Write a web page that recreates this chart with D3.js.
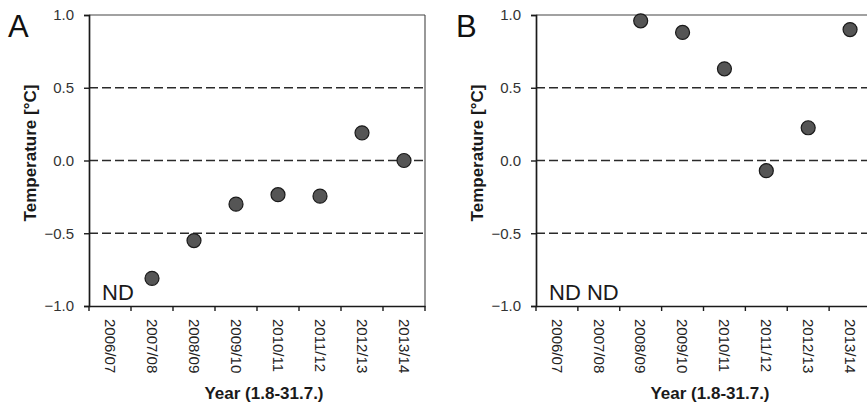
<!DOCTYPE html>
<html>
<head>
<meta charset="utf-8">
<script src="https://cdn.jsdelivr.net/npm/d3@7"></script>
<style>
  body { margin: 0; background: #fff; }
  svg { font-family: "Liberation Sans", Arial, sans-serif; }
</style>
</head>
<body>
<script>
// seasons on the x axis
var years = ["2006/07", "2007/08", "2008/09", "2009/10", "2010/11", "2011/12", "2012/13", "2013/14"];
// null = ND (no data)
var valuesA = [null, -0.81, -0.55, -0.30, -0.235, -0.245, 0.19, 0.0];
var valuesB = [null, null, 0.96, 0.88, 0.63, -0.07, 0.225, 0.90];
var yTicks = [-1.0, -0.5, 0.0, 0.5, 1.0];
var gridLines = [-0.5, 0.0, 0.5];

var svg = d3.select("body").append("svg")
    .attr("width", 867)
    .attr("height", 405);

function drawPanel(spec) {
    var x = d3.scaleBand().domain(years).range([spec.left, spec.right]);
    var y = d3.scaleLinear().domain([-1, 1]).range([306, 15]);
    var g = svg.append("g");

    // frame top / right (thin)
    g.append("line")
        .attr("x1", spec.left).attr("x2", spec.right)
        .attr("y1", y(1)).attr("y2", y(1))
        .attr("stroke", "#444").attr("stroke-width", 1.1);
    g.append("line")
        .attr("x1", spec.right).attr("x2", spec.right)
        .attr("y1", y(1)).attr("y2", y(-1))
        .attr("stroke", "#444").attr("stroke-width", 1.1);

    // dashed reference lines
    g.selectAll(".grid").data(gridLines).enter().append("line")
        .attr("x1", spec.left).attr("x2", spec.right)
        .attr("y1", d => y(d)).attr("y2", d => y(d))
        .attr("stroke", "#2a2a2a").attr("stroke-width", 1.4)
        .attr("stroke-dasharray", "9,4");

    // y axis
    var ya = g.append("g")
        .attr("transform", "translate(" + spec.left + ",0)")
        .call(d3.axisLeft(y).tickValues(yTicks).tickFormat(d3.format(".1f")).tickSize(5).tickPadding(10));
    ya.select(".domain").attr("stroke", "#1a1a1a").attr("stroke-width", 1.7);
    ya.selectAll(".tick line").attr("stroke", "#1a1a1a").attr("stroke-width", 1.4);
    ya.selectAll(".tick text").attr("fill", "#333").style("font-size", "15px");

    // x axis: labels centred in bands, ticks at band edges
    var xa = g.append("g")
        .attr("transform", "translate(0," + y(-1) + ")")
        .call(d3.axisBottom(x).tickSize(0).tickPadding(0));
    xa.select(".domain").attr("stroke", "#1a1a1a").attr("stroke-width", 1.7);
    xa.selectAll(".tick text")
        .attr("fill", "#222")
        .style("font-size", "15px")
        .attr("text-anchor", "start")
        .attr("dy", "0.35em")
        .attr("transform", "translate(0,13) rotate(90)");
    var edges = years.map(d => x(d)).concat([x(years[years.length - 1]) + x.bandwidth()]);
    xa.selectAll(".edge").data(edges).enter().append("line")
        .attr("x1", d => d).attr("x2", d => d)
        .attr("y1", 0).attr("y2", 5)
        .attr("stroke", "#1a1a1a").attr("stroke-width", 1.4);

    // points
    var pts = years.map((c, i) => ({ c: c, v: spec.values[i] })).filter(d => d.v !== null);
    g.selectAll(".pt").data(pts).enter().append("circle")
        .attr("cx", d => x(d.c) + x.bandwidth() / 2)
        .attr("cy", d => y(d.v))
        .attr("r", 7)
        .attr("fill", "#555")
        .attr("stroke", "#1a1a1a")
        .attr("stroke-width", 1.2);

    // ND labels
    g.append("text")
        .attr("x", spec.left + 13)
        .attr("y", 300)
        .style("font-size", "22px")
        .attr("fill", "#1a1a1a")
        .text(spec.nd);

    // axis titles
    g.append("text")
        .attr("transform", "translate(" + (spec.left - 53) + ",153) rotate(-90)")
        .attr("text-anchor", "middle")
        .style("font-size", "17px")
        .style("font-weight", "bold")
        .attr("fill", "#1a1a1a")
        .text("Temperature [°C]");
    g.append("text")
        .attr("x", spec.xTitle)
        .attr("y", 399)
        .attr("text-anchor", "middle")
        .style("font-size", "17px")
        .style("font-weight", "bold")
        .attr("fill", "#1a1a1a")
        .text("Year (1.8-31.7.)");

    // panel letter
    g.append("text")
        .attr("x", spec.letterX)
        .attr("y", 37)
        .style("font-size", "31px")
        .attr("fill", "#111")
        .text(spec.letter);
}

drawPanel({ left: 89, right: 425, values: valuesA, nd: "ND", letter: "A", letterX: 8, xTitle: 264 });
drawPanel({ left: 536, right: 871, values: valuesB, nd: "ND ND", letter: "B", letterX: 456, xTitle: 710 });
</script>
</body>
</html>
